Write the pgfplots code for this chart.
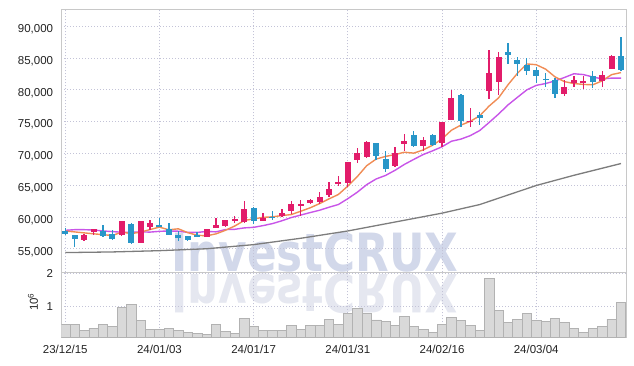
\documentclass[border=0pt]{standalone}
\usepackage{fontspec}
\setmainfont{Liberation Sans}
\newfontfamily\wmfont{DejaVu Sans}
\usepackage{pgfplots}
\pgfplotsset{compat=1.18}
\usepackage{pgfplotstable}

\definecolor{upc}{RGB}{226,28,106}
\definecolor{dnc}{RGB}{40,150,200}
\definecolor{maA}{RGB}{240,140,85}
\definecolor{maB}{RGB}{200,85,232}
\definecolor{maC}{RGB}{125,125,125}
\definecolor{gridc}{RGB}{195,195,215}
\definecolor{framec}{RGB}{200,200,200}
\definecolor{tickc}{RGB}{35,35,35}
\definecolor{wm}{RGB}{210,216,234}
\definecolor{wmr}{RGB}{229,231,240}
\definecolor{volf}{RGB}{217,217,217}
\definecolor{vold}{RGB}{178,178,178}

\pgfplotstableread{
i o h l c
2 56400 57400 56200 57100
3 57700 58100 57100 58100
6 57100 59400 57000 59300
8 55900 59400 55900 59300
9 58400 59500 57900 59000
15 56900 58100 56800 58100
16 58300 59900 58200 58700
17 58600 59500 58500 59500
18 59500 60100 59000 59700
19 59200 62500 59000 61200
21 59400 60600 59300 59900
23 60200 61300 60000 60700
24 61000 62500 60500 62000
25 61850 62600 60200 62050
26 62200 62800 62100 62600
27 62300 63900 62100 63200
28 63500 65500 63200 64400
29 65250 66500 64900 65550
30 65400 68700 64700 68600
31 68900 70900 68500 70000
32 69500 71900 69200 71800
35 68000 71000 67900 70000
36 71400 73100 70400 71900
38 71200 72500 70300 72100
40 71600 75000 71000 75000
41 75200 80000 75200 78700
43 74900 77100 74100 75150
45 79800 86200 78500 82700
46 81300 86000 79100 85100
53 79400 81500 79000 80400
54 81100 82100 80400 81500
55 81050 82200 80100 81400
57 81400 83000 80500 82400
58 83200 85500 83200 85300
}\up

\pgfplotstableread{
i o h l c
0 57800 58300 57100 57300
1 57100 57150 55200 56600
4 57800 58800 56900 57000
5 57300 57900 56300 56600
7 58900 59000 55800 55900
10 58700 59800 58400 58500
11 58100 59000 57100 57200
12 57100 57800 56200 56700
13 57000 57050 56300 56300
14 57200 57600 56800 56900
20 61400 61600 58900 59400
22 60050 60900 59500 59850
33 71600 71700 68900 69600
34 69100 70400 67100 67600
37 72900 73500 71000 71100
39 72900 73000 71200 71300
42 79200 79300 74100 75100
44 76000 76500 74500 75600
47 85900 87300 84100 85400
48 84700 85200 82100 84100
49 83900 85000 82400 83000
50 83100 83600 81100 82100
51 81700 82600 80500 81550
52 81600 81800 78700 79300
56 82200 83000 80200 81300
59 85300 88300 83000 83100
}\down

\pgfplotstableread{
i v
0 57800
1 57650
2 57500
3 57350
4 57220
5 57080
6 57620
7 57380
8 57620
9 58020
10 58400
11 57980
12 58140
13 57540
14 57120
15 57040
16 57340
17 57900
18 58580
19 59440
20 59700
21 59940
22 60020
23 60220
24 60380
25 60900
26 61440
27 62100
28 62840
29 63540
30 64860
31 66340
32 68060
33 69100
34 69520
35 69800
36 70180
37 70040
38 70540
39 71280
40 72280
41 73640
42 74440
43 75040
44 75900
45 77440
46 78720
47 80780
48 82580
49 84060
50 83940
51 83240
52 82020
53 81280
54 80980
55 80840
56 80780
57 81400
58 82380
59 82700
}\mafive

\pgfplotstableread{
i v
0 57900
1 58000
2 58000
3 57950
4 57800
5 57700
6 57600
7 57600
8 57650
9 57620
10 57740
11 57800
12 57760
13 57580
14 57570
15 57720
16 57660
17 58020
18 58060
19 58280
20 58370
21 58640
22 58960
23 59400
24 59910
25 60300
26 60690
27 61060
28 61530
29 61960
30 62880
31 63890
32 65080
33 65970
34 66530
35 67330
36 68260
37 69050
38 69820
39 70400
40 71040
41 71910
42 72240
43 72790
44 73590
45 74860
46 76180
47 77610
48 78810
49 79980
50 80690
51 80980
52 81400
53 81930
54 82520
55 82390
56 82010
57 81710
58 81830
59 81840
}\maten

\pgfplotstableread{
i v
0 54400
5 54500
10 54700
15 55000
20 55650
25 56650
30 57800
35 59200
40 60600
44 61950
47 63450
50 64950
54 66550
59 68400
}\masixty

\pgfplotstableread{
i v
0 0.47
1 0.47
2 0.28
3 0.35
4 0.47
5 0.41
6 0.98
7 1.07
8 0.59
9 0.31
10 0.31
11 0.35
12 0.28
13 0.22
14 0.19
15 0.16
16 0.47
17 0.25
18 0.19
19 0.65
20 0.41
21 0.28
22 0.28
23 0.28
24 0.44
25 0.32
26 0.44
27 0.44
28 0.62
29 0.47
30 0.80
31 0.94
32 0.80
33 0.60
34 0.55
35 0.44
36 0.71
37 0.41
38 0.31
39 0.22
40 0.47
41 0.68
42 0.57
43 0.42
44 0.28
45 1.86
46 0.89
47 0.53
48 0.62
49 0.80
50 0.59
51 0.56
52 0.65
53 0.53
54 0.35
55 0.22
56 0.35
57 0.41
58 0.62
59 1.13
}\vol

\begin{document}
\begin{tikzpicture}
\useasboundingbox (0pt,0pt) rectangle (634pt,366pt);
% watermark
\node[anchor=base west, inner sep=0pt, text=wm, font=\wmfont\fontsize{52.7}{55}\selectfont\bfseries, xscale=0.83] at (171pt,94.4pt) {InvestCRUX};
\node[anchor=base west, inner sep=0pt, text=wmr, font=\wmfont\fontsize{52.7}{55}\selectfont\bfseries, xscale=0.83, yscale=-1] at (171pt,91pt) {InvestCRUX};

\pgfplotsset{
  common/.style={
    scale only axis, width=564.6pt,
    xmin=-0.42, xmax=59.52,
    xtick={0,10,20,30,40,50},
    grid=major,
    major grid style={gridc, dash pattern=on 1pt off 2pt, line width=0.7pt},
    axis line style={framec, line width=0.8pt},
    major tick length=0pt,
    scaled x ticks=false, scaled y ticks=false,
    yticklabel style={font=\fontsize{11.5}{12}\selectfont, text=tickc, inner sep=0pt},
    xticklabel style={font=\fontsize{11.5}{12}\selectfont, text=tickc, inner sep=0pt},
  },
  candle/.style 2 args={draw=none, mark=none, forget plot,
    error bars/.cd, y dir=both, y explicit, error mark=none,
    error bar style={draw=#1, line width=#2, solid}},
}

\begin{axis}[common,
  at={(61.3pt,93.7pt)}, anchor=south west,
  height=263.3pt,
  ymin=51300, ymax=92700,
  xticklabels={,,,,,},
  ytick={55000,60000,65000,70000,75000,80000,85000,90000},
  yticklabels={{55,000},{60,000},{65,000},{70,000},{75,000},{80,000},{85,000},{90,000}},
  yticklabel style={anchor=base east, xshift=-8pt, yshift=-6.3pt},
]
\addplot[maC, line width=1.3pt] table[x=i,y=v]{\masixty};
\addplot[maB, line width=1.4pt] table[x=i,y=v]{\maten};
\addplot[maA, line width=1.4pt] table[x=i,y=v]{\mafive};
% wicks
\addplot[candle={upc}{1.3pt}]
  table[x=i, y expr={(\thisrow{h}+\thisrow{l})/2}, y error expr={(\thisrow{h}-\thisrow{l})/2}]{\up};
\addplot[candle={dnc}{1.3pt}]
  table[x=i, y expr={(\thisrow{h}+\thisrow{l})/2}, y error expr={(\thisrow{h}-\thisrow{l})/2}]{\down};
% bodies
\addplot[candle={upc}{6pt}]
  table[x=i, y expr={(\thisrow{o}+\thisrow{c})/2}, y error expr={abs(\thisrow{c}-\thisrow{o})/2}]{\up};
\addplot[candle={dnc}{6pt}]
  table[x=i, y expr={(\thisrow{o}+\thisrow{c})/2}, y error expr={abs(\thisrow{c}-\thisrow{o})/2}]{\down};
\end{axis}

\begin{axis}[common,
  at={(61.3pt,28.7pt)}, anchor=south west,
  height=65pt,
  ymin=0.07, ymax=2.04,
  xticklabels={23/12/15,24/01/03,24/01/17,24/01/31,24/02/16,24/03/04},
  xticklabel style={anchor=base, yshift=-16.2pt},
  ytick={1,2}, yticklabels={1,2},
  yticklabel style={anchor=base east, xshift=-8pt, yshift=-4.1pt},
]
\addplot[ybar, bar width=1, fill=volf, draw=vold, line width=0.6pt] table[x=i,y=v]{\vol};
\end{axis}

\node[rotate=90, inner sep=0pt, text=tickc, font=\fontsize{11.5}{12}\selectfont] at (33pt,64pt) {10\textsuperscript{6}};
\end{tikzpicture}
\end{document}
